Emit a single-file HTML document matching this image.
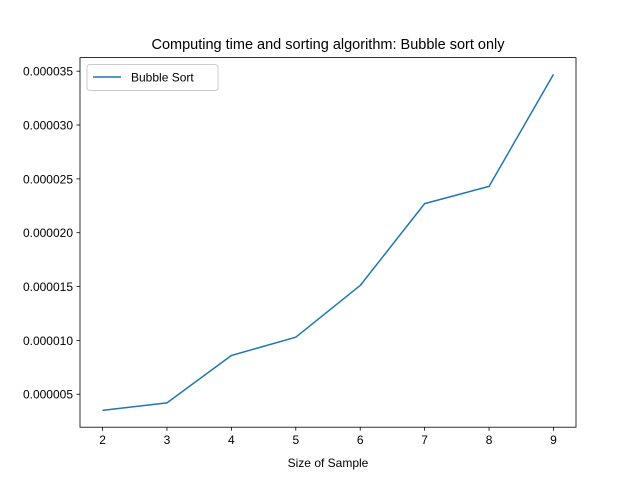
<!DOCTYPE html>
<html><head><meta charset="utf-8"><style>
html,body{margin:0;padding:0;background:#fff;}
svg{display:block;font-family:"Liberation Sans","DejaVu Sans",sans-serif;}
</style></head><body>
<svg id="chart" width="640" height="480" xmlns="http://www.w3.org/2000/svg">
<rect width="640" height="480" fill="#fff"/>
<text x="328" y="49" text-anchor="middle" font-size="14.5" fill="#000">Computing time and sorting algorithm: Bubble sort only</text>
<g id="ticks"></g>
<polyline id="line" fill="none" stroke="#1f77b4" stroke-width="1.5" stroke-linejoin="round"/>
<rect x="80" y="57.6" width="496" height="369.6" fill="none" stroke="#000" stroke-width="0.8"/>
<text x="328" y="467" text-anchor="middle" font-size="12">Size of Sample</text>
<g>
<rect x="87" y="64.5" width="131" height="26" rx="3" fill="#fff" stroke="#ccc" stroke-width="1"/>
<line x1="93" y1="77" x2="121" y2="77" stroke="#1f77b4" stroke-width="1.5"/>
<text x="131" y="81.5" font-size="12">Bubble Sort</text>
</g>
</svg>
<script>
const categories=[2,3,4,5,6,7,8,9];
const values=[3.5e-6,4.2e-6,8.6e-6,10.3e-6,15.1e-6,22.7e-6,24.3e-6,34.7e-6];
const yTickLabels=["0.000005","0.000010","0.000015","0.000020","0.000025","0.000030","0.000035"];
const yTickValues=[5e-6,10e-6,15e-6,20e-6,25e-6,30e-6,35e-6];
const L=80,R=576,T=57.6,B=427.2;
const xmin=Math.min(...categories),xmax=Math.max(...categories);
const xpad=(xmax-xmin)*0.05;
const vmin=Math.min(...values),vmax=Math.max(...values);
const ypad=(vmax-vmin)*0.05;
const x0=xmin-xpad,x1=xmax+xpad,y0=vmin-ypad,y1=vmax+ypad;
const sx=v=>L+(v-x0)/(x1-x0)*(R-L);
const sy=v=>B-(v-y0)/(y1-y0)*(B-T);
const NS="http://www.w3.org/2000/svg";
const g=document.getElementById('ticks');
function mk(tag,attrs){const e=document.createElementNS(NS,tag);for(const k in attrs)e.setAttribute(k,attrs[k]);g.appendChild(e);return e;}
categories.forEach(c=>{
  const x=sx(c);
  const t=mk('line',{x1:x,x2:x,y1:B,y2:B+3.5,stroke:'#000','stroke-width':0.8});
  
  
  const l=mk('text',{x:x,y:B+17,'text-anchor':'middle','font-size':12});
  l.textContent=String(c);
  
  
});
yTickValues.forEach((v,i)=>{
  const y=sy(v);
  const t=mk('line',{x1:L-3.5,x2:L,y1:y,y2:y,stroke:'#000','stroke-width':0.8});
  
  
  const l=mk('text',{x:L-7,y:y+4.5,'text-anchor':'end','font-size':12});
  l.textContent=yTickLabels[i];
  
  
});
document.getElementById('line').setAttribute('points',categories.map((c,i)=>sx(c)+','+sy(values[i])).join(' '));
</script>
</body></html>
